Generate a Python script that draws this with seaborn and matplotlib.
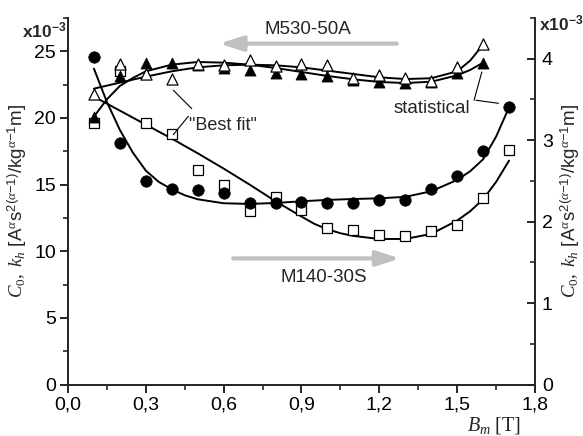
import matplotlib
matplotlib.use("Agg")
import matplotlib.pyplot as plt
import seaborn as sns
import pandas as pd
from matplotlib.ticker import MultipleLocator, FuncFormatter

# ---------------- data (values in units of 1e-3, left axis) ----------------
bm = [0.1, 0.2, 0.3, 0.4, 0.5, 0.6, 0.7, 0.8, 0.9, 1.0, 1.1, 1.2, 1.3, 1.4, 1.5, 1.6, 1.7]
m140_stat = [24.55, 18.1, 15.27, 14.69, 14.59, 14.34, 13.64, 13.59, 13.69, 13.64, 13.64, 13.84, 13.84, 14.64, 15.64, 17.5, 20.8]
m140_best = [19.6, 23.5, 19.6, 18.8, 16.1, 15.0, 13.0, 14.1, 13.06, 11.78, 11.63, 11.2, 11.13, 11.53, 11.96, 14.03, 17.58]

bm530 = [0.1, 0.2, 0.3, 0.4, 0.5, 0.6, 0.7, 0.8, 0.9, 1.0, 1.1, 1.2, 1.3, 1.4, 1.5, 1.6]
m530_stat = [20.07, 23.13, 24.12, 24.12, 23.95, 23.75, 23.58, 23.37, 23.33, 23.13, 22.83, 22.7, 22.62, 22.7, 23.37, 24.15]
m530_best = [21.8, 24.07, 23.33, 22.95, 24.07, 24.0, 24.33, 23.88, 24.07, 24.0, 23.03, 23.2, 23.03, 22.77, 23.82, 25.55]

# fitted curves
fit140_stat_x = [0.1, 0.15, 0.2, 0.25, 0.3, 0.35, 0.4, 0.45, 0.5, 0.6, 0.7, 0.8, 0.9, 1.0, 1.1, 1.2, 1.3, 1.4, 1.5, 1.55, 1.6, 1.65, 1.7]
fit140_stat_y = [23.7, 21.2, 19.1, 17.4, 16.05, 15.2, 14.65, 14.2, 13.9, 13.6, 13.55, 13.62, 13.75, 13.85, 13.92, 13.97, 14.08, 14.5, 15.35, 16.0, 16.9, 18.6, 20.8]
fit140_best_x = [0.1, 0.2, 0.3, 0.4, 0.5, 0.6, 0.7, 0.8, 0.9, 0.95, 1.0, 1.05, 1.1, 1.2, 1.3, 1.4, 1.5, 1.55, 1.6, 1.65, 1.7]
fit140_best_y = [21.6, 20.55, 19.5, 18.45, 17.35, 16.2, 15.0, 13.75, 12.6, 12.05, 11.65, 11.35, 11.15, 10.92, 10.92, 11.3, 12.3, 13.0, 13.9, 15.2, 16.8]
fit530_stat_x = [0.1, 0.15, 0.2, 0.25, 0.3, 0.4, 0.5, 0.6, 0.7, 0.8, 0.9, 1.0, 1.1, 1.2, 1.3, 1.4, 1.5, 1.55, 1.6]
fit530_stat_y = [20.1, 21.4, 22.4, 23.0, 23.5, 24.0, 24.2, 24.15, 24.0, 23.75, 23.45, 23.15, 22.9, 22.7, 22.62, 22.72, 23.2, 23.6, 24.15]
fit530_best_x = [0.1, 0.2, 0.3, 0.4, 0.5, 0.6, 0.7, 0.8, 0.9, 1.0, 1.1, 1.2, 1.3, 1.4, 1.5, 1.55, 1.6]
fit530_best_y = [22.2, 22.65, 23.1, 23.5, 23.8, 23.95, 24.0, 23.95, 23.8, 23.55, 23.3, 23.05, 22.92, 22.98, 23.5, 24.3, 25.5]

xticks = [0.0, 0.3, 0.6, 0.9, 1.2, 1.5, 1.8]
yticks_left = [0, 5, 10, 15, 20, 25]
yticks_right = [0, 1, 2, 3, 4]

# ---------------- style ----------------
sns.set_theme(style="ticks")
plt.rcParams["font.family"] = ["Liberation Sans", "DejaVu Sans"]
plt.rcParams["mathtext.fontset"] = "custom"
plt.rcParams["mathtext.it"] = "Liberation Serif:italic"
plt.rcParams["mathtext.rm"] = "Liberation Serif"
plt.rcParams["mathtext.sf"] = "Liberation Sans"
plt.rcParams["mathtext.bf"] = "Liberation Sans:bold"

fig = plt.figure(figsize=(5.83, 4.36), dpi=100)
ax = fig.add_axes([0.1166, 0.1181, 0.8011, 0.8406])

LW = 1.4
# curves
for fx, fy in [(fit140_stat_x, fit140_stat_y), (fit140_best_x, fit140_best_y),
               (fit530_stat_x, fit530_stat_y), (fit530_best_x, fit530_best_y)]:
    sns.lineplot(x=fx, y=fy, ax=ax, color="black", lw=LW, sort=False, estimator=None, zorder=2)

# markers
sns.scatterplot(x=bm, y=m140_best, ax=ax, marker="s", s=46, color="white", edgecolor="black", linewidth=0.9, zorder=3)
sns.scatterplot(x=bm, y=m140_stat, ax=ax, marker="o", s=68, color="black", edgecolor="black", linewidth=0.5, zorder=4)
sns.scatterplot(x=bm530, y=m530_stat, ax=ax, marker="^", s=64, color="black", edgecolor="black", linewidth=0.5, zorder=3)
sns.scatterplot(x=bm530, y=m530_best, ax=ax, marker="^", s=64, color="white", edgecolor="black", linewidth=0.9, zorder=4)

ax.set_xlim(0, 1.8)
ax.set_ylim(0, 27.5)
ax.set_xticks(xticks)
ax.set_yticks(yticks_left)
ax.xaxis.set_minor_locator(MultipleLocator(0.15))
ax.yaxis.set_minor_locator(MultipleLocator(2.5))
ax.xaxis.set_major_formatter(FuncFormatter(lambda v, p: f"{v:.1f}".replace(".", ",")))

for side in ["left", "bottom", "right"]:
    ax.spines[side].set_linewidth(1.3)
ax.spines["top"].set_visible(False)
ax.tick_params(which="major", direction="out", length=5.5, width=1.2, labelsize=14, pad=3, colors="black")
ax.tick_params(which="minor", direction="out", length=3.3, width=1.2)

ylab = r"$\mathit{C_0},\ \mathit{k_h}$ [A$^{\alpha}$s$^{\mathsf{2(}\alpha\mathsf{-1)}}$/kg$^{\alpha\mathsf{-1}}$m]"
ax.set_ylabel(ylab, fontsize=13.5, labelpad=4)
ax.set_xlabel("")

ax2 = ax.twinx()
ax2.set_ylim(0, 4.5)
ax2.set_yticks(yticks_right)
ax2.yaxis.set_minor_locator(MultipleLocator(0.5))
ax2.spines["top"].set_visible(False)
ax2.spines["right"].set_linewidth(1.3)
ax2.tick_params(which="major", direction="in", length=5.5, width=1.2, labelsize=14, pad=5, colors="black")
ax2.tick_params(which="minor", direction="in", length=3.3, width=1.2)
ax2.set_ylabel(ylab, fontsize=13.5, labelpad=4)

# x label
fig.text(494 / 583, 1 - 430 / 436, r"$B_m$ [T]", family="Liberation Serif", fontsize=14.5,
         ha="center", va="baseline")
# multipliers
mult = r"$\mathbf{x10^{-3}}$"
fig.text(22 / 583, 1 - 30 / 436, mult, fontsize=12.5, ha="left", va="center")
fig.text(539 / 583, 1 - 23 / 436, mult, fontsize=12.5, ha="left", va="center")

# arrows and texts
grey = "#c0c0c0"
ax.annotate("", xy=(0.583, 25.58), xytext=(1.267, 25.58),
            arrowprops=dict(arrowstyle="-|>,head_length=1.4,head_width=0.45", lw=3, color=grey,
                            shrinkA=0, shrinkB=0, mutation_scale=10))
ax.text(0.925, 26.65, "M530-50A", fontsize=13.5, ha="center", va="center")
ax.annotate("", xy=(1.28, 9.46), xytext=(0.637, 9.46),
            arrowprops=dict(arrowstyle="-|>,head_length=1.4,head_width=0.45", lw=3, color=grey,
                            shrinkA=0, shrinkB=0, mutation_scale=10))
ax.text(0.987, 8.06, "M140-30S", fontsize=13.5, ha="center", va="center")

ax.text(0.468, 19.45, "\"Best fit\"", fontsize=13, ha="left", va="center")
lead = dict(arrowstyle="-", lw=0.8, color="black", shrinkA=0, shrinkB=0)
ax.annotate("", xy=(0.406, 22.08), xytext=(0.477, 20.7), arrowprops=lead)
ax.annotate("", xy=(0.406, 18.75), xytext=(0.464, 20.13), arrowprops=lead)

ax.text(1.401, 20.7, "statistical", fontsize=13.5, ha="center", va="center")
ax.annotate("", xy=(1.595, 23.45), xytext=(1.565, 21.33), arrowprops=lead)
ax.annotate("", xy=(1.659, 21.1), xytext=(1.572, 21.33), arrowprops=lead)

fig.savefig("out.png", dpi=100)
